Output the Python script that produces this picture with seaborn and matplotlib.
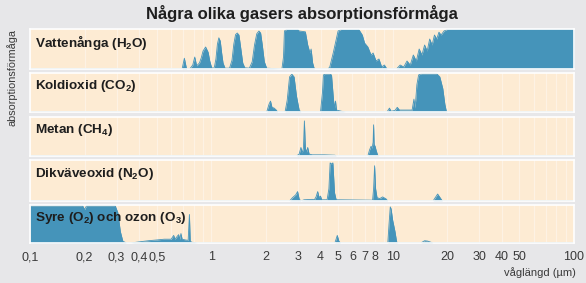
import numpy as np
import pandas as pd
import matplotlib
matplotlib.use("Agg")
import matplotlib.pyplot as plt
import seaborn as sns
from matplotlib.ticker import FixedLocator, FixedFormatter, NullFormatter

# ---------------- data (wavelength in µm, relative absorption 0..1) ----------------
h2o_wl = [0.10, 0.69, 0.71, 0.73, 0.76, 0.79, 0.81, 0.83, 0.86, 0.88, 0.90, 0.93, 0.96, 0.98, 1.00, 1.02,
          1.04, 1.06, 1.08, 1.10, 1.12, 1.14, 1.16, 1.19, 1.26, 1.30, 1.33, 1.36, 1.39, 1.42, 1.45, 1.49, 1.53,
          1.62, 1.68, 1.73, 1.78, 1.83, 1.87, 1.91, 1.96, 2.02, 2.45, 2.50, 2.53, 2.60, 3.00, 3.05, 3.30,
          3.40, 3.50, 3.55, 3.62, 3.70, 4.40, 4.50, 4.70, 5.00, 5.20, 6.50, 6.80, 7.00, 7.30,
          7.60, 7.80, 8.10, 8.40, 8.70, 9.00, 9.30, 10.5, 11.0, 11.5, 12.0, 12.5, 13.0, 13.5,
          14.0, 14.5, 15.0, 15.5, 16.0, 16.5, 17.0, 17.5, 18.0, 18.5, 19.2, 20.0, 100.0]
h2o_ab = [0.00, 0.00, 0.27, 0.00, 0.00, 0.10, 0.30, 0.08, 0.15, 0.28, 0.45, 0.55, 0.42, 0.20, 0.06, 0.00,
          0.05, 0.25, 0.62, 0.78, 0.70, 0.40, 0.15, 0.02, 0.02, 0.22, 0.62, 0.86, 0.90, 0.85, 0.55, 0.15, 0.03,
          0.02, 0.18, 0.60, 0.88, 0.95, 0.90, 0.60, 0.18, 0.02, 0.00, 0.30, 0.95, 0.99, 0.99, 0.95, 0.93,
          0.60, 0.40, 0.50, 0.15, 0.00, 0.00, 0.05, 0.40, 0.95, 0.99, 0.99, 0.85, 0.65, 0.55,
          0.35, 0.40, 0.20, 0.25, 0.05, 0.10, 0.00, 0.00, 0.10, 0.05, 0.20, 0.10, 0.35, 0.20,
          0.50, 0.35, 0.60, 0.45, 0.75, 0.60, 0.85, 0.75, 0.92, 0.85, 0.95, 0.99, 0.99]

co2_wl = [0.10, 2.02, 2.08, 2.12, 2.16, 2.22, 2.28, 2.32, 2.55, 2.62, 2.70, 2.78, 2.86, 2.95,
          3.05, 3.12, 4.00, 4.10, 4.15, 4.25, 4.50, 4.60, 4.72, 4.78, 4.84, 4.90, 5.20, 5.50,
          9.30, 9.60, 9.80, 10.3, 10.6, 10.9, 12.8, 13.1, 13.25, 13.4, 13.6, 13.9, 14.4, 17.5,
          18.2, 18.9, 19.4, 19.8, 100.0]
co2_ab = [0.00, 0.00, 0.20, 0.28, 0.12, 0.10, 0.05, 0.00, 0.00, 0.30, 0.90, 0.97, 0.90, 0.40,
          0.05, 0.00, 0.00, 0.50, 0.95, 0.97, 0.97, 0.95, 0.30, 0.10, 0.28, 0.05, 0.02, 0.00,
          0.00, 0.10, 0.02, 0.04, 0.12, 0.05, 0.05, 0.33, 0.10, 0.30, 0.70, 0.95, 0.98, 0.98,
          0.90, 0.60, 0.20, 0.00, 0.00]

ch4_wl = [0.10, 2.95, 3.05, 3.12, 3.17, 3.22, 3.26, 3.30, 3.35, 3.40, 3.46, 3.60, 4.20, 4.80,
          4.90, 7.30, 7.45, 7.60, 7.70, 7.80, 7.85, 7.90, 8.00, 8.10, 8.25, 8.35, 100.0]
ch4_ab = [0.00, 0.00, 0.05, 0.22, 0.08, 0.20, 0.90, 0.20, 0.10, 0.22, 0.05, 0.03, 0.03, 0.02,
          0.00, 0.00, 0.15, 0.25, 0.20, 0.35, 0.80, 0.30, 0.25, 0.15, 0.03, 0.00, 0.00]

n2o_wl = [0.10, 2.70, 2.80, 2.92, 2.99, 3.05, 3.12, 3.25, 3.60, 3.70, 3.78, 3.86, 3.93, 4.00,
          4.06, 4.35, 4.45, 4.52, 4.60, 4.68, 4.78, 4.88, 7.75, 7.85, 7.95, 8.05, 8.20, 8.50,
          8.80, 9.20, 9.40, 16.7, 17.7, 18.8, 100.0]
n2o_ab = [0.00, 0.00, 0.08, 0.15, 0.23, 0.05, 0.00, 0.03, 0.04, 0.03, 0.10, 0.23, 0.08, 0.12,
          0.03, 0.03, 0.30, 0.93, 0.90, 0.93, 0.20, 0.03, 0.02, 0.30, 0.86, 0.30, 0.08, 0.06,
          0.10, 0.05, 0.00, 0.00, 0.17, 0.00, 0.00]

o3_wl = [0.10, 0.195, 0.20, 0.205, 0.295, 0.305, 0.315, 0.325, 0.34, 0.36, 0.40, 0.45, 0.50,
         0.55, 0.60, 0.62, 0.63, 0.66, 0.67, 0.68, 0.69, 0.72, 0.745, 0.757, 0.765, 0.78, 0.84,
         4.80, 4.95, 5.05, 5.15, 9.40, 9.55, 9.70, 9.80, 10.0, 10.3, 10.5, 10.6, 14.3, 15.0,
         15.6, 16.7, 100.0]
o3_ab = [0.98, 0.98, 0.88, 0.98, 0.98, 0.80, 0.30, 0.05, 0.00, 0.00, 0.03, 0.06, 0.08,
         0.10, 0.10, 0.20, 0.10, 0.22, 0.10, 0.25, 0.10, 0.08, 0.07, 0.75, 0.05, 0.02, 0.00,
         0.00, 0.20, 0.05, 0.00, 0.00, 0.50, 0.95, 0.90, 0.60, 0.30, 0.05, 0.00, 0.00, 0.06,
         0.05, 0.00, 0.00]

gas_labels = ["Vattenånga (H$_2$O)", "Koldioxid (CO$_2$)", "Metan (CH$_4$)",
              "Dikväveoxid (N$_2$O)", "Syre (O$_2$) och ozon (O$_3$)"]
gas_data = [(h2o_wl, h2o_ab), (co2_wl, co2_ab), (ch4_wl, ch4_ab), (n2o_wl, n2o_ab), (o3_wl, o3_ab)]

tick_values = [0.1, 0.2, 0.3, 0.4, 0.5, 1, 2, 3, 4, 5, 6, 7, 8, 10, 20, 30, 40, 50, 100]
tick_labels = ["0,1", "0,2", "0,3", "0,4", "0,5", "1", "2", "3", "4", "5", "6", "7", "8",
               "10", "20", "30", "40", "50", "100"]

title = "Några olika gasers absorptionsförmåga"
ylabel = "absorptionsförmåga"
xlabel = "våglängd (µm)"

# ---------------- style ----------------
sns.set_theme(style="white")
plt.rcParams["font.family"] = ["Liberation Sans", "DejaVu Sans"]
plt.rcParams["mathtext.fontset"] = "custom"
plt.rcParams["mathtext.bf"] = "Liberation Sans:bold"
plt.rcParams["mathtext.rm"] = "Liberation Sans:bold"
plt.rcParams["mathtext.default"] = "bf"

W, H = 586, 283
fig = plt.figure(figsize=(W / 100, H / 100), dpi=100)
BG = "#e7e7e9"
CREAM = "#fdebd3"
TEAL = "#4594ba"
fig.patch.set_facecolor(BG)

panels = [(29, 69), (73, 112), (117, 156), (160, 201), (205, 243)]
x0, x1 = 30, 574

minor_grid = [v * 10.0 ** e for e in (-1, 0, 1) for v in range(1, 10)] + [100]

for i, ((top, bot), (wl, ab), lab) in enumerate(zip(panels, gas_data, gas_labels)):
    ax = fig.add_axes([x0 / W, 1 - bot / H, (x1 - x0) / W, (bot - top) / H])
    ax.set_facecolor(CREAM)
    ax.set_xscale("log")
    ax.set_xlim(0.1, 100)
    ax.set_ylim(0, 1.0)
    for v in minor_grid:
        ax.axvline(v, color="white", lw=0.8, alpha=0.4, zorder=0.5)
    df = pd.DataFrame({"wl": wl, "ab": ab})
    ax.fill_between(df["wl"], 0, df["ab"], color=TEAL, lw=0, zorder=2)
    sns.lineplot(data=df, x="wl", y="ab", ax=ax, color=TEAL, lw=0.6, zorder=2,
                 estimator=None, sort=False)
    ax.set_xlabel("")
    ax.set_ylabel("")
    ax.set_yticks([])
    for s in ax.spines.values():
        s.set_color("white")
        s.set_linewidth(1.2)
    if i == len(panels) - 1:
        ax.xaxis.set_major_locator(FixedLocator(tick_values))
        ax.xaxis.set_major_formatter(FixedFormatter(tick_labels))
        ax.xaxis.set_minor_formatter(NullFormatter())
        ax.tick_params(axis="x", which="both", length=0, pad=6, labelsize=9,
                       labelcolor="#3a3a3a")
    else:
        ax.set_xticks([])
        ax.xaxis.set_minor_formatter(NullFormatter())
        ax.tick_params(axis="x", which="both", length=0)
    fig.text(35 / W, 1 - (top + 13.5) / H, lab, ha="left", va="center",
             fontsize=9.7, fontweight="bold", color="#1e1e1e", zorder=5)

fig.text(302 / W, 1 - 13 / H, title, ha="center", va="center", fontsize=12,
         fontweight="bold", color="#1e1e1e")
fig.text(12 / W, 1 - 78 / H, ylabel, ha="center", va="center", rotation=90,
         fontsize=7.8, color="#3a3a3a")
fig.text(576 / W, 1 - 273 / H, xlabel, ha="right", va="center", fontsize=8,
         color="#3a3a3a")

fig.savefig("out.png", dpi=100, facecolor=BG)
